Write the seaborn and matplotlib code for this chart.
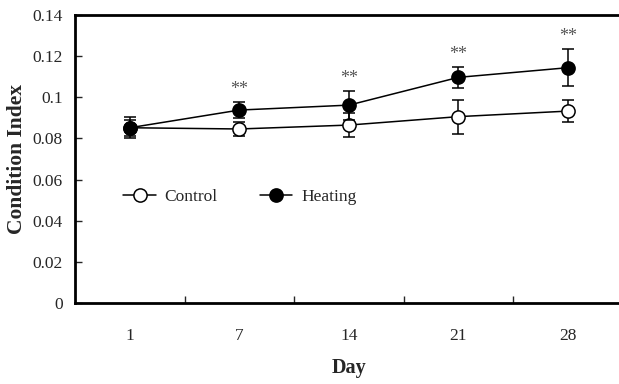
import matplotlib
matplotlib.use("Agg")
import matplotlib.pyplot as plt
import seaborn as sns
import pandas as pd

# values
days = ["1", "7", "14", "21", "28"]
control_mean = [0.0852, 0.0846, 0.0865, 0.0906, 0.0933]
control_sd = [0.0040, 0.0033, 0.0060, 0.0082, 0.0055]
heating_mean = [0.0852, 0.0938, 0.0962, 0.1097, 0.1144]
heating_sd = [0.0052, 0.0041, 0.0070, 0.0051, 0.0091]
signif = ["", "**", "**", "**", "**"]
y_ticks = [0, 0.02, 0.04, 0.06, 0.08, 0.1, 0.12, 0.14]

df = pd.DataFrame({
    "Day": days * 2,
    "Index": control_mean + heating_mean,
    "SD": control_sd + heating_sd,
    "Group": ["Control"] * 5 + ["Heating"] * 5,
})

sns.set_style("ticks")
plt.rcParams["font.family"] = ["Liberation Serif", "DejaVu Serif"]

fig = plt.figure(figsize=(6.19, 3.84), dpi=100)
ax = fig.add_axes([0.1212, 0.2109, 0.885, 0.75])

faces = {"Control": "white", "Heating": "black"}
for i, (grp, sub) in enumerate(df.groupby("Group", sort=True)):
    ax.errorbar(sub["Day"], sub["Index"], yerr=sub["SD"], fmt="none",
                ecolor="black", elinewidth=1.1, capsize=4, capthick=1.1,
                zorder=2 + 2 * i)
    sns.lineplot(data=sub, x="Day", y="Index", ax=ax, color="black",
                 marker="o", markersize=9.5, markerfacecolor=faces[grp],
                 markeredgecolor="black", markeredgewidth=1.1,
                 linewidth=1.1, label=grp, sort=False, zorder=3 + 2 * i)

heat = df[df["Group"] == "Heating"]
for d, m, s, lab in zip(heat["Day"], heat["Index"], heat["SD"], signif):
    if lab:
        ax.annotate(lab, (d, m + s), xytext=(0, 9), textcoords="offset points",
                    ha="center", va="center", color="#555555", fontsize=13)

ax.set_xlim(-0.5, 4.5)
ax.set_ylim(0, 0.14)
ax.set_yticks(y_ticks)
ax.set_yticklabels([f"{v:g}" for v in y_ticks])
ax.set_xticks([x + 0.5 for x in range(len(days) - 1)], minor=False)
ax.set_xticklabels([])
ax.set_xticks(range(len(days)), minor=True)
ax.set_xticklabels(days, minor=True)
ax.tick_params(axis="x", which="major", direction="in", length=5, width=1, pad=18)
ax.tick_params(axis="x", which="minor", length=0, pad=18, labelsize=12.5)
ax.tick_params(axis="y", direction="in", length=5, width=1, pad=9, labelsize=12.5)

for sp in ax.spines.values():
    sp.set_linewidth(2)
    sp.set_color("black")

ax.set_xlabel("Day", fontsize=14.5, fontweight="bold")
ax.set_ylabel("Condition Index", fontsize=15.5, fontweight="bold")
ax.xaxis.set_label_coords(0.5, -0.19)
ax.yaxis.set_label_coords(-0.088, 0.5)

ax.legend(loc="center left", bbox_to_anchor=(0.075, 0.368), ncol=2, frameon=False,
          fontsize=12.5, handlelength=1.9, handletextpad=0.5, columnspacing=2.4,
          borderaxespad=0)

fig.savefig("out.png", dpi=100)
